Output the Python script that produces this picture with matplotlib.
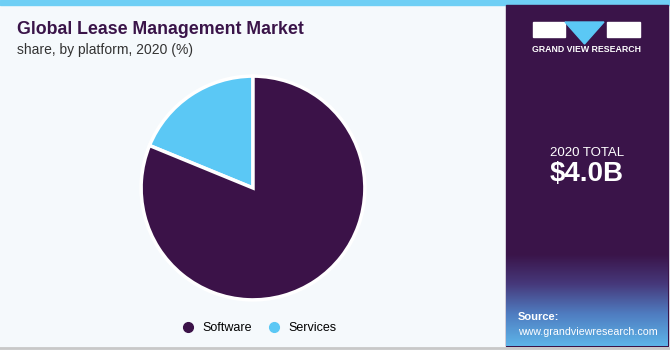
import matplotlib.pyplot as plt
import matplotlib.patches as patches
import numpy as np
from matplotlib.lines import Line2D
from matplotlib.colors import LinearSegmentedColormap

plt.rcParams["font.family"] = ["Liberation Sans", "DejaVu Sans"]

# data
labels = ["Software", "Services"]
shares = [81.2, 18.8]
colors = ["#3b1248", "#5bc8f5"]

W, H = 670, 350
fig = plt.figure(figsize=(W / 100, H / 100), dpi=100)
fig.patch.set_facecolor("#f5f9fc")


def fx(px):
    return px / W


def fy(py):
    return 1 - py / H


# top light-blue bar
fig.patches.append(patches.Rectangle((0, fy(5)), 1, 5 / H, transform=fig.transFigure,
                                     color="#6fcff5", zorder=-2))
# right side panel
fig.patches.append(patches.Rectangle((fx(506), fy(346)), fx(668 - 506), (346 - 5) / H,
                                     transform=fig.transFigure, color="#3a1449", zorder=-2))
# gradient at the bottom of the panel
gax = fig.add_axes([fx(506), fy(346), fx(668 - 506), 92 / H])
gax.set_zorder(1)
grad = np.linspace(0, 1, 200).reshape(-1, 1)
cmap = LinearSegmentedColormap.from_list(
    "g", [(0, "#5db4e8"), (0.35, "#4f7cc0"), (0.68, "#46387a"), (1, "#3a1449")])
gax.imshow(grad, aspect="auto", cmap=cmap, origin="lower", extent=[0, 1, 0, 1])
gax.axis("off")
# bottom gray border
fig.lines.append(Line2D([0, 1], [fy(348), fy(348)], transform=fig.transFigure,
                        color="#c8c8c8", linewidth=2, zorder=5))

# logo
fig.patches.append(patches.Rectangle((fx(533), fy(37)), fx(32), 15 / H,
                                     transform=fig.transFigure, color="white"))
fig.patches.append(patches.Rectangle((fx(607), fy(37)), fx(33), 15 / H,
                                     transform=fig.transFigure, color="white"))
fig.patches.append(patches.Polygon([(fx(565), fy(22)), (fx(604), fy(22)), (fx(584.5), fy(44))],
                                   closed=True, transform=fig.transFigure, color="#5bc8f5"))
fig.text(fx(587), fy(49), "GRAND VIEW RESEARCH", color="white", fontsize=6.3,
         fontweight="bold", ha="center", va="center")

# totals
fig.text(fx(587), fy(153), "2020 TOTAL", color="white", fontsize=9.5, ha="center", va="center")
fig.text(fx(587), fy(174), "$4.0B", color="white", fontsize=20, fontweight="bold",
         ha="center", va="center")

# source
fig.text(fx(518), fy(317), "Source:", color="white", fontsize=8, fontweight="bold",
         ha="left", va="center", zorder=3)
fig.text(fx(518), fy(332), "www.grandviewresearch.com", color="white", fontsize=7.7,
         ha="left", va="center", zorder=3)

# title
fig.text(fx(17), fy(30), "Global Lease Management Market", color="#3a1449", fontsize=12.8,
         fontweight="bold", ha="left", va="center")
fig.text(fx(17), fy(50), "share, by platform, 2020 (%)", color="#333333", fontsize=10,
         ha="left", va="center")

# pie
r = 113
ax = fig.add_axes([fx(253 - r), fy(188 + r), fx(2 * r), 2 * r / H])
ax.pie([shares[1], shares[0]], colors=[colors[1], colors[0]], startangle=90,
       counterclock=True, wedgeprops=dict(edgecolor="white", linewidth=2.5))
ax.set_xlim(-1.01, 1.01)
ax.set_ylim(-1.01, 1.01)
ax.set_aspect("equal")
ax.axis("off")

# legend
handles = [Line2D([], [], marker="o", linestyle="none", markersize=7, color=c) for c in colors]
fig.legend(handles, labels, loc="center", bbox_to_anchor=(fx(256), fy(328)), ncol=2,
           frameon=False, fontsize=9, handletextpad=0.2, columnspacing=0.75)

fig.savefig("out.png", dpi=100, facecolor=fig.get_facecolor())
